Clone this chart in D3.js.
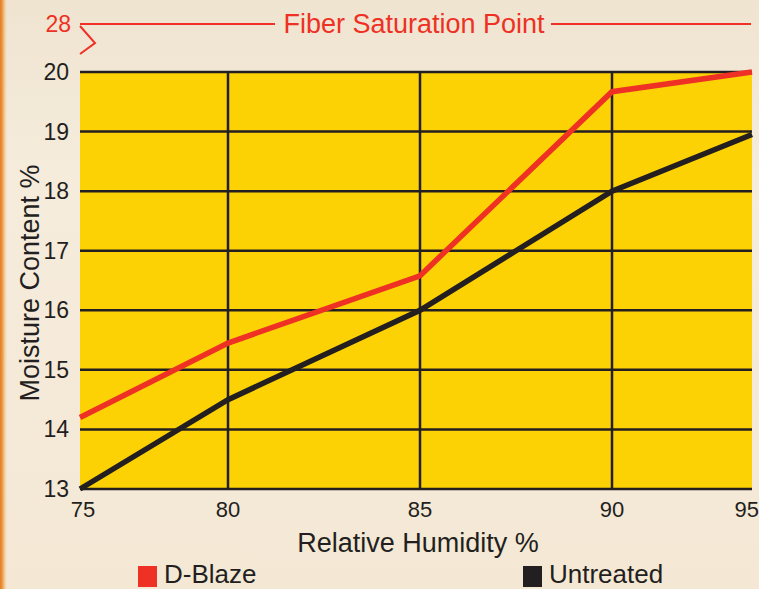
<!DOCTYPE html>
<html>
<head>
<meta charset="utf-8">
<script src="https://cdn.jsdelivr.net/npm/d3@7/dist/d3.min.js"></script>
<style>
  html, body { margin: 0; padding: 0; background: #f3e8d6; }
  svg { display: block; font-family: "Liberation Sans", Arial, Helvetica, sans-serif; }
</style>
</head>
<body>
<div id="chart"></div>
<script>
(() => {
    const W = 759, H = 589;

    // data
    const humidity = [75, 80, 85, 90, 95];
    const dBlaze = [14.2, 15.45, 16.58, 19.67, 20.0];
    const untreated = [13.0, 14.5, 16.0, 18.0, 18.95];
    const yTicks = [13, 14, 15, 16, 17, 18, 19, 20];
    const seriesNames = ["D-Blaze", "Untreated"];

    const ink = "#231f20";
    const red = "#ee3124";
    const gold = "#fdd205";

    const svg = d3.select("#chart")
        .append("svg")
        .attr("width", W)
        .attr("height", H);

    // paper background with an orange edge on the left
    const defs = svg.append("defs");
    const grad = defs.append("linearGradient").attr("id", "edge")
        .attr("x1", 0).attr("x2", 1).attr("y1", 0).attr("y2", 0);
    grad.append("stop").attr("offset", 0).attr("stop-color", "#e07a2a");
    grad.append("stop").attr("offset", 0.35).attr("stop-color", "#f0a24a");
    grad.append("stop").attr("offset", 1).attr("stop-color", "#f3e8d6").attr("stop-opacity", 0);
    const bg = defs.append("linearGradient").attr("id", "paper")
        .attr("x1", 0).attr("x2", 0).attr("y1", 0).attr("y2", 1);
    bg.append("stop").attr("offset", 0).attr("stop-color", "#efe4d0");
    bg.append("stop").attr("offset", 0.3).attr("stop-color", "#f6ecdc");
    bg.append("stop").attr("offset", 1).attr("stop-color", "#f4e8d5");

    svg.append("rect").attr("width", W).attr("height", H).attr("fill", "url(#paper)");
    svg.append("rect").attr("width", 8).attr("height", H).attr("fill", "url(#edge)");

    // x positions are not evenly spaced in the original
    const x = d3.scaleLinear()
        .domain(humidity)
        .range([80, 228, 420, 612, 752]);

    const y = d3.scaleLinear()
        .domain([13, 20])
        .range([489, 72]);

    const plot = svg.append("g");

    plot.append("rect")
        .attr("x", x(75))
        .attr("y", y(20))
        .attr("width", x(95) - x(75))
        .attr("height", y(13) - y(20))
        .attr("fill", gold);

    // horizontal grid
    plot.selectAll("line.h")
        .data(yTicks)
        .enter()
        .append("line")
        .attr("class", "h")
        .attr("x1", x(75))
        .attr("x2", x(95))
        .attr("y1", d => y(d))
        .attr("y2", d => y(d))
        .attr("stroke", ink)
        .attr("stroke-width", 2.5);

    // vertical grid (inner lines only)
    plot.selectAll("line.v")
        .data(humidity.slice(1, -1))
        .enter()
        .append("line")
        .attr("class", "v")
        .attr("x1", d => x(d))
        .attr("x2", d => x(d))
        .attr("y1", y(20))
        .attr("y2", y(13))
        .attr("stroke", ink)
        .attr("stroke-width", 2.5);

    const line = d3.line()
        .x((d, i) => x(humidity[i]))
        .y(d => y(d));

    plot.append("path")
        .datum(untreated)
        .attr("d", line)
        .attr("fill", "none")
        .attr("stroke", ink)
        .attr("stroke-width", 5.5);

    plot.append("path")
        .datum(dBlaze)
        .attr("d", line)
        .attr("fill", "none")
        .attr("stroke", red)
        .attr("stroke-width", 5.5);

    // tick labels
    svg.selectAll("text.yt")
        .data(yTicks)
        .enter()
        .append("text")
        .attr("class", "yt")
        .attr("x", 69)
        .attr("y", d => y(d) + 8)
        .attr("text-anchor", "end")
        .attr("fill", ink)
        .style("font-size", "23px")
        .text(d => d);

    const last = humidity.length - 1;
    svg.selectAll("text.xt")
        .data(humidity)
        .enter()
        .append("text")
        .attr("class", "xt")
        .attr("x", (d, i) => i === 0 ? x(d) + 3 : i === last ? W : x(d))
        .attr("y", 517)
        .attr("text-anchor", (d, i) => i === last ? "end" : "middle")
        .attr("fill", ink)
        .style("font-size", "22px")
        .text(d => d);

    // axis titles
    svg.append("text")
        .attr("x", 418)
        .attr("y", 552)
        .attr("text-anchor", "middle")
        .attr("fill", ink)
        .style("font-size", "27px")
        .text("Relative Humidity %");

    svg.append("text")
        .attr("transform", "translate(39, 283) rotate(-90)")
        .attr("text-anchor", "middle")
        .attr("fill", ink)
        .style("font-size", "27px")
        .text("Moisture Content %");

    // fiber saturation point marker
    svg.append("text")
        .attr("x", 71)
        .attr("y", 32)
        .attr("text-anchor", "end")
        .attr("fill", red)
        .style("font-size", "23px")
        .text("28");

    svg.append("line")
        .attr("x1", x(75)).attr("x2", 275)
        .attr("y1", 24).attr("y2", 24)
        .attr("stroke", red).attr("stroke-width", 2);
    svg.append("line")
        .attr("x1", 551).attr("x2", x(95) - 1)
        .attr("y1", 24).attr("y2", 24)
        .attr("stroke", red).attr("stroke-width", 2);
    svg.append("path")
        .attr("d", "M80,26 L95,43 L80,54")
        .attr("fill", "none")
        .attr("stroke", red)
        .attr("stroke-width", 2);

    svg.append("text")
        .attr("x", 414)
        .attr("y", 33)
        .attr("text-anchor", "middle")
        .attr("fill", red)
        .style("font-size", "27px")
        .text("Fiber Saturation Point");

    // legend
    const legendX = [138, 523];
    const legendColor = [red, ink];
    const legend = svg.selectAll("g.legend")
        .data(seriesNames)
        .enter()
        .append("g")
        .attr("class", "legend")
        .attr("transform", (d, i) => `translate(${legendX[i]}, 566)`);

    legend.append("rect")
        .attr("width", 19)
        .attr("height", 21)
        .attr("fill", (d, i) => legendColor[i]);

    legend.append("text")
        .attr("x", 26)
        .attr("y", 17)
        .attr("fill", ink)
        .style("font-size", "26px")
        .text(d => d);
})();
</script>
</body>
</html>
